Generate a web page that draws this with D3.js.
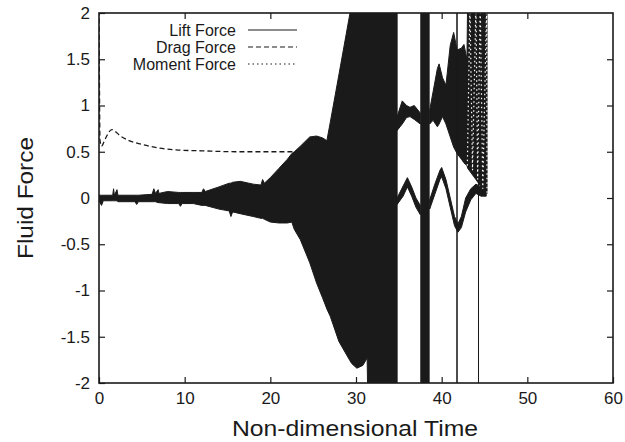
<!DOCTYPE html>
<html lang="en">
<head>
<meta charset="UTF-8">
<title>Fluid Force</title>
<script src="https://cdn.jsdelivr.net/npm/d3@7"></script>
<style>
	body { margin: 0; background: #fff; }
	text { font-family: "Liberation Sans", Arial, sans-serif; fill: #1a1a1a; }
</style>
</head>
<body>
<div id="vis"></div>
<script>
	// axis ticks
	var xTicks = [0, 10, 20, 30, 40, 50, 60];
	var yTicks = [-2, -1.5, -1, -0.5, 0, 0.5, 1, 1.5, 2];

	// lift force envelope up to the blow-up, [time, upper, lower]
	var liftMain = [
		[0, 0.03, -0.03], [0.3, 0.03, -0.08], [0.5, 0.03, -0.03],
		[1.6, 0.03, -0.03], [1.7, 0.1, -0.03], [1.8, 0.03, -0.03], [2.1, 0.09, -0.03], [2.2, 0.03, -0.04],
		[4.2, 0.03, -0.04], [4.4, 0.03, -0.07], [4.6, 0.03, -0.04],
		[6.2, 0.04, -0.04], [6.4, 0.1, -0.04], [6.6, 0.05, -0.04], [6.9, 0.09, -0.05], [7.0, 0.05, -0.05],
		[8, 0.07, -0.06], [9.3, 0.06, -0.06], [9.5, 0.06, -0.09], [9.7, 0.06, -0.06],
		[11, 0.06, -0.06], [12, 0.06, -0.08], [12.2, 0.1, -0.08], [12.4, 0.07, -0.08],
		[14, 0.12, -0.12], [15.2, 0.16, -0.14], [15.4, 0.16, -0.2], [15.6, 0.17, -0.15],
		[16.5, 0.18, -0.17], [18, 0.15, -0.2], [18.9, 0.14, -0.22], [19.1, 0.2, -0.22], [19.3, 0.16, -0.23],
		[20, 0.22, -0.26], [21, 0.32, -0.27], [22, 0.42, -0.27], [22.5, 0.48, -0.26], [22.8, 0.5, -0.34],
		[23.5, 0.56, -0.45], [24.6, 0.66, -0.7], [25.4, 0.67, -0.92], [26.1, 0.65, -1.08],
		[26.6, 0.62, -1.2], [27, 0.82, -1.28], [28, 1.33, -1.55], [29.3, 2.0, -1.76],
		[29.5, 2.3, -1.79], [30.1, 2.3, -1.84], [30.8, 2.3, -1.81], [31.3, 2.3, -1.73],
		[31.4, 2.3, -2.3], [34.8, 2.3, -2.3]
	];

	// upper band after the blow-up, [time, upper, lower]
	var bandHighA = [
		[34.8, 0.88, 0.73], [35.4, 1.05, 0.8], [35.9, 1.0, 0.87], [36.3, 0.98, 0.88],
		[36.8, 1.0, 0.85], [37.5, 0.92, 0.8]
	];
	var bandHighB = [
		[38.6, 0.95, 0.8], [39.0, 1.15, 0.84], [39.5, 1.4, 0.77], [39.7, 1.45, 0.8],
		[40.1, 1.3, 0.88], [40.5, 1.22, 0.8], [41.0, 1.65, 0.66], [41.4, 1.79, 0.55],
		[41.8, 1.6, 0.48], [42.3, 1.62, 0.42], [42.6, 1.66, 0.38], [42.95, 1.5, 0.35],
		[43.05, 2.3, 0.32], [44.0, 2.3, 0.2], [44.6, 2.3, 0.12], [45.3, 2.3, 0.05]
	];

	// lift force band after the blow-up, [time, upper, lower]
	var bandLowA = [
		[34.8, 0.0, -0.07], [35.5, 0.13, 0.02], [36.0, 0.22, 0.12], [36.5, 0.12, 0.02],
		[37.0, 0.0, -0.1], [37.5, -0.08, -0.18]
	];
	var bandLowB = [
		[38.6, -0.02, -0.12], [39.2, 0.15, 0.04], [39.8, 0.3, 0.2], [40.0, 0.33, 0.23],
		[40.5, 0.2, 0.1], [41.0, 0.0, -0.1], [41.5, -0.2, -0.3], [41.9, -0.28, -0.37],
		[42.3, -0.2, -0.32], [42.8, 0.0, -0.15], [43.4, 0.1, -0.02], [44.0, 0.15, 0.05],
		[44.6, 0.12, 0.02], [45.2, 0.08, 0.02]
	];

	// full-height bursts, [start, end]
	var bursts = [[37.5, 38.6], [41.7, 41.88], [44.24, 44.36]];

	// drag force
	var dragT = [0, 0.12, 0.3, 0.55, 0.9, 1.5, 2.5, 3.5, 5, 7, 9, 12, 16, 20, 26];
	var dragV = [2.2, 0.62, 0.56, 0.6, 0.67, 0.74, 0.67, 0.62, 0.58, 0.54, 0.52, 0.51, 0.5, 0.5, 0.5];

	// moment force: quiet part (under the lift band) and the final burst
	var momentQuietT = [0, 10, 20, 30, 34.8];
	var momentQuietV = [0, 0, 0, 0, 0];
	var momentBurstT = [43.0, 43.3, 43.6, 44.0, 44.2, 44.5, 44.8, 45.25, 45.3];
	var momentBurstV = [0.35, 2.1, 0.3, 2.1, 0.2, 2.1, 0.1, 2.1, 0.05];

	var width = 625;
	var height = 442;
	var margin = { left: 99, right: 12, top: 13, bottom: 59 };
	var ink = "#1a1a1a";
	var font = "'Liberation Sans', Arial, sans-serif";

	var svg = d3.select("#vis").append("svg")
		.attr("width", width)
		.attr("height", height);

	var x = d3.scaleLinear().domain([0, 60]).range([margin.left, width - margin.right]);
	var y = d3.scaleLinear().domain([-2, 2]).range([height - margin.bottom, margin.top]);

	svg.append("clipPath").attr("id", "plot")
		.append("rect")
		.attr("x", x(0)).attr("y", y(2))
		.attr("width", x(60) - x(0)).attr("height", y(-2) - y(2));

	var plot = svg.append("g").attr("clip-path", "url(#plot)");

	var line = d3.line()
		.x(function(d) { return x(d[0]); })
		.y(function(d) { return y(d[1]); });

	// quiet moment sits underneath the lift band
	plot.append("path")
		.datum(d3.zip(momentQuietT, momentQuietV))
		.attr("d", line)
		.attr("fill", "none")
		.attr("stroke", ink)
		.attr("stroke-width", 1.2)
		.attr("stroke-dasharray", "1.5,3");

	var area = d3.area()
		.x(function(d) { return x(d[0]); })
		.y0(function(d) { return y(d[2]); })
		.y1(function(d) { return y(d[1]); });

	[liftMain, bandHighA, bandHighB, bandLowA, bandLowB].forEach(function(s) {
		plot.append("path")
			.datum(s)
			.attr("d", area)
			.attr("fill", ink)
			.attr("stroke", ink)
			.attr("stroke-width", 1);
	});

	plot.selectAll("rect.burst")
		.data(bursts)
		.enter().append("rect")
		.attr("class", "burst")
		.attr("x", function(d) { return x(d[0]); })
		.attr("width", function(d) { return x(d[1]) - x(d[0]); })
		.attr("y", y(2))
		.attr("height", y(-2) - y(2))
		.attr("fill", ink);

	plot.append("path")
		.datum(d3.zip(dragT, dragV))
		.attr("d", line.curve(d3.curveMonotoneX))
		.attr("fill", "none")
		.attr("stroke", ink)
		.attr("stroke-width", 1.3)
		.attr("stroke-dasharray", "5,3");

	// the burst is drawn over the dark band, so its dots show up light
	plot.append("path")
		.datum(d3.zip(momentBurstT, momentBurstV))
		.attr("d", line.curve(d3.curveLinear))
		.attr("fill", "none")
		.attr("stroke", "#fff")
		.attr("stroke-width", 1.2)
		.attr("stroke-dasharray", "1.5,3");

	// axes, gnuplot style: inward ticks on all four sides
	var fmt = function(d) { return String(d); };

	var gx = svg.append("g")
		.attr("transform", "translate(0," + y(-2) + ")")
		.call(d3.axisBottom(x).tickValues(xTicks).tickSizeInner(-6).tickSizeOuter(0).tickPadding(9).tickFormat(fmt));
	var gy = svg.append("g")
		.attr("transform", "translate(" + x(0) + ",0)")
		.call(d3.axisLeft(y).tickValues(yTicks).tickSizeInner(-6).tickSizeOuter(0).tickPadding(9).tickFormat(fmt));
	var gt = svg.append("g")
		.attr("transform", "translate(0," + y(2) + ")")
		.call(d3.axisTop(x).tickValues(xTicks.slice(1, -1)).tickSizeInner(-6).tickSizeOuter(0).tickFormat(""));
	var gr = svg.append("g")
		.attr("transform", "translate(" + x(60) + ",0)")
		.call(d3.axisRight(y).tickValues(yTicks.slice(1, -1)).tickSizeInner(-6).tickSizeOuter(0).tickFormat(""));

	[gx, gy, gt, gr].forEach(function(g) {
		g.select(".domain").remove();
		g.selectAll(".tick line").attr("stroke", ink).attr("stroke-width", 1.2);
		g.selectAll("text").attr("font-size", 17).attr("fill", ink).style("font-family", font);
	});

	svg.append("rect")
		.attr("x", x(0)).attr("y", y(2))
		.attr("width", x(60) - x(0)).attr("height", y(-2) - y(2))
		.attr("fill", "none")
		.attr("stroke", ink)
		.attr("stroke-width", 1.6);

	// legend
	var legend = [
		{ name: "Lift Force", dash: null },
		{ name: "Drag Force", dash: "5,3" },
		{ name: "Moment Force", dash: "1.5,3" }
	];
	var lg = svg.selectAll("g.legend")
		.data(legend)
		.enter().append("g")
		.attr("class", "legend")
		.attr("transform", function(d, i) { return "translate(0," + (30 + i * 17) + ")"; });
	lg.append("text")
		.attr("x", 236)
		.attr("dy", "0.35em")
		.attr("text-anchor", "end")
		.attr("font-size", 16)
		.text(function(d) { return d.name; });
	lg.append("line")
		.attr("x1", 248).attr("x2", 297)
		.attr("stroke", ink)
		.attr("stroke-width", 1.2)
		.attr("stroke-dasharray", function(d) { return d.dash; });

	// axis titles
	svg.append("text")
		.attr("x", 355)
		.attr("y", 436)
		.attr("text-anchor", "middle")
		.attr("font-size", 22)
		.attr("textLength", 246)
		.attr("lengthAdjust", "spacingAndGlyphs")
		.text("Non-dimensional Time");
	svg.append("text")
		.attr("transform", "translate(33," + y(0) + ") rotate(-90)")
		.attr("text-anchor", "middle")
		.attr("font-size", 22)
		.attr("textLength", 122)
		.attr("lengthAdjust", "spacingAndGlyphs")
		.text("Fluid Force");
</script>
</body>
</html>
